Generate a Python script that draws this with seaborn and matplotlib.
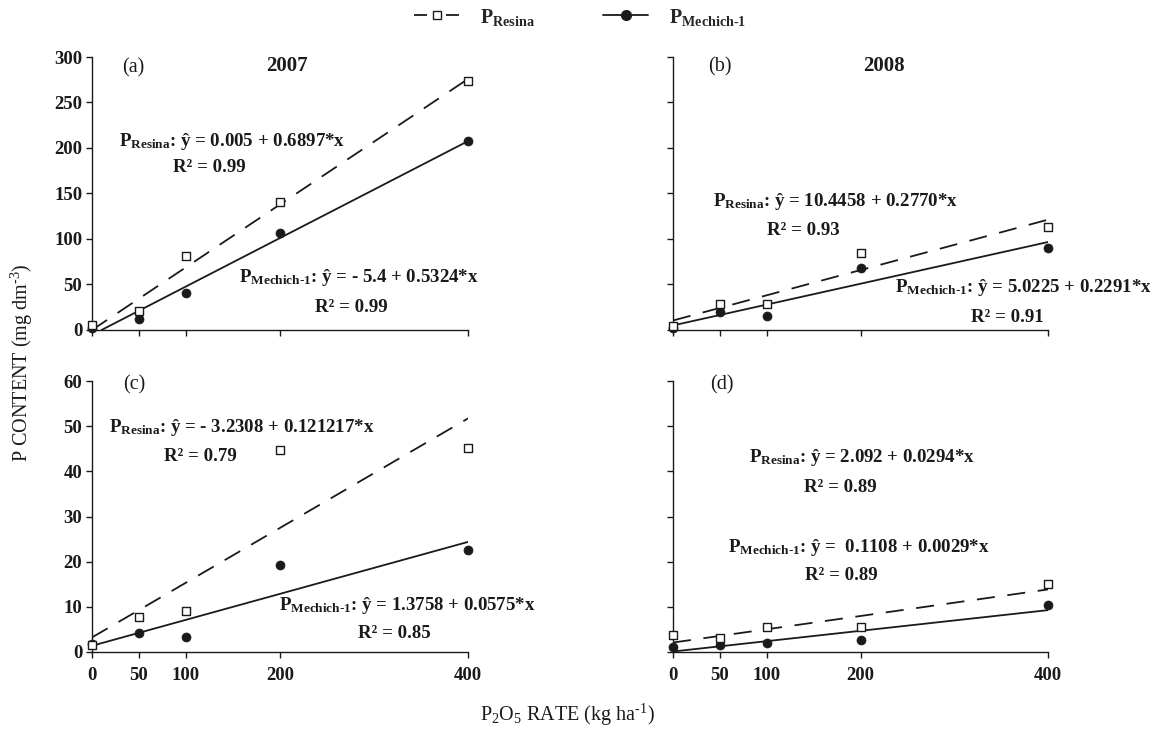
import matplotlib
matplotlib.use('Agg')
import matplotlib.pyplot as plt
from matplotlib.lines import Line2D
import seaborn as sns

RATES = [0, 50, 100, 200, 400]

# measured points, P content (mg dm-3)
RESINA_A = [5, 20.5, 81.5, 141, 273.5]
MECHICH_A = [2, 12.5, 41, 106.5, 207.5]
RESINA_B = [4.5, 28.5, 29, 85, 113]
MECHICH_B = [2.5, 19.5, 15.5, 68.5, 90.5]
RESINA_C = [1.5, 7.8, 9.1, 44.7, 45.1]
MECHICH_C = [1.8, 4.2, 3.4, 19.2, 22.5]
RESINA_D = [3.7, 3.1, 5.5, 5.5, 15.0]
MECHICH_D = [1.1, 1.6, 2.1, 2.6, 10.3]

# fitted lines as drawn (intercept, slope)
FIT_RESINA = [(0.005, 0.6897), (10.4458, 0.2770), (3.2308, 0.121217), (2.092, 0.0294)]
FIT_MECHICH = [(-5.4, 0.5324), (5.0225, 0.2291), (1.3758, 0.0575), (0.1108, 0.0229)]

EQ_RESINA = ['0.005 + 0.6897*x', '10.4458 + 0.2770*x', '- 3.2308 + 0.121217*x', '2.092 + 0.0294*x']
EQ_MECHICH = ['- 5.4 + 0.5324*x', '5.0225 + 0.2291*x', '1.3758 + 0.0575*x', ' 0.1108 + 0.0029*x']
R2_RESINA = ['0.99', '0.93', '0.79', '0.89']
R2_MECHICH = ['0.99', '0.91', '0.85', '0.89']
PANELS = ['(a)', '(b)', '(c)', '(d)']
YEARS = ['2007', '2008']

sns.set_theme(style='ticks')
plt.rcParams['font.family'] = ['Liberation Serif', 'DejaVu Serif']
plt.rcParams['mathtext.fontset'] = 'custom'
plt.rcParams['mathtext.rm'] = 'Liberation Serif'
plt.rcParams['mathtext.bf'] = 'Liberation Serif:bold'
plt.rcParams['mathtext.it'] = 'Liberation Serif:italic'

INK = '#1a1a1a'
W, H = 1160, 729

fig = plt.figure(figsize=(11.6, 7.29), dpi=100)

def px(x, y):
    return x / W, 1 - y / H

rects = [
    (92 / W, 1 - 330 / H, 376 / W, 273 / H),
    (673 / W, 1 - 330 / H, 375 / W, 273 / H),
    (92 / W, 1 - 652 / H, 376 / W, 271 / H),
    (673 / W, 1 - 652 / H, 375 / W, 271 / H),
]
resina = [RESINA_A, RESINA_B, RESINA_C, RESINA_D]
mechich = [MECHICH_A, MECHICH_B, MECHICH_C, MECHICH_D]

axes = []
for i, r in enumerate(rects):
    ax = fig.add_axes(r)
    axes.append(ax)
    top = i < 2
    ax.set_xlim(0, 400)
    ax.set_ylim(0, 300 if top else 60)
    ax.set_xticks(RATES)
    ax.set_yticks(range(0, 301, 50) if top else range(0, 61, 10))

    b, m = FIT_RESINA[i]
    ax.axline((0, b), slope=m, color=INK, lw=1.3, dashes=(10, 7), zorder=2)
    b, m = FIT_MECHICH[i]
    ax.axline((0, b), slope=m, color=INK, lw=1.3, zorder=2)

    sns.scatterplot(x=RATES, y=mechich[i], ax=ax, marker='o', color=INK,
                    edgecolor=INK, s=42, zorder=3, clip_on=False)
    sns.scatterplot(x=RATES, y=resina[i], ax=ax, marker='s', color='white',
                    edgecolor=INK, linewidth=1.0, s=30, zorder=4, clip_on=False)

    sns.despine(ax=ax)
    for s in ('left', 'bottom'):
        ax.spines[s].set_color(INK)
        ax.spines[s].set_linewidth(1.0)
    ax.tick_params(colors=INK, length=4, width=1.0, labelsize=13.5, pad=3)
    ax.tick_params(axis='x', pad=7)
    if top:
        ax.set_xticklabels([])
    else:
        ax.set_xticklabels([str(v) for v in RATES], fontweight='bold')
    if i % 2 == 1:
        ax.set_yticklabels([])
    else:
        for t in ax.get_yticklabels():
            t.set_fontweight('bold')
    ax.set_xlabel('')
    ax.set_ylabel('')

# panel letters and years
for (x, y), s in zip([(133, 68), (720, 67), (134, 385), (722, 385)], PANELS):
    fig.text(*px(x, y), s, ha='center', va='center', fontsize=14.5, color=INK)
for (x, y), s in zip([(287, 66), (884, 66)], YEARS):
    fig.text(*px(x, y), s, ha='center', va='center', fontsize=15,
             fontweight='bold', color=INK)

# equations
eq_r_pos = [(119, 142), (713, 202), (109, 427), (749, 458)]
r2_r_pos = [(209, 168), (803, 230), (200, 456), (840, 487)]
eq_m_pos = [(239, 278), (895, 288), (279, 606), (728, 547)]
r2_m_pos = [(351, 308), (1007, 317), (394, 634), (841, 575)]
for i in range(4):
    fig.text(*px(*eq_r_pos[i]), r'P$_{\mathbf{Resina}}$: ŷ = ' + EQ_RESINA[i],
             ha='left', va='center', fontsize=13.6, fontweight='bold', color=INK)
    fig.text(*px(*r2_r_pos[i]), 'R² = ' + R2_RESINA[i],
             ha='center', va='center', fontsize=13.6, fontweight='bold', color=INK)
    fig.text(*px(*eq_m_pos[i]), r'P$_{\mathbf{Mechich\text{-}1}}$: ŷ = ' + EQ_MECHICH[i],
             ha='left', va='center', fontsize=13.6, fontweight='bold', color=INK)
    fig.text(*px(*r2_m_pos[i]), 'R² = ' + R2_MECHICH[i],
             ha='center', va='center', fontsize=13.6, fontweight='bold', color=INK)

# axis titles
fig.text(*px(22, 363), r'P CONTENT (mg dm$^{\text{-}3}$)', rotation=90,
         ha='center', va='center', fontsize=14.5, color=INK)
fig.text(*px(567, 715), r'P$_2$O$_5$ RATE (kg ha$^{\text{-}1}$)',
         ha='center', va='center', fontsize=14.5, color=INK)

# legend
handles = [
    Line2D([], [], color=INK, lw=1.3, dashes=(7.2, 10.5), marker='s',
           markerfacecolor='white', markeredgecolor=INK, markersize=6),
    Line2D([], [], color=INK, lw=1.3, marker='o', markerfacecolor=INK,
           markeredgecolor=INK, markersize=7),
]
labels = [r'P$_{\mathbf{Resina}}$', r'P$_{\mathbf{Mechich\text{-}1}}$']
leg = fig.legend(handles, labels, loc='center', bbox_to_anchor=px(580, 17),
                 ncol=2, frameon=False, handlelength=2.25, handletextpad=1.0,
                 columnspacing=3.4, prop={'family': 'Liberation Serif',
                                          'weight': 'bold', 'size': 14.5})

fig.savefig('out.png', dpi=100, facecolor='white')
